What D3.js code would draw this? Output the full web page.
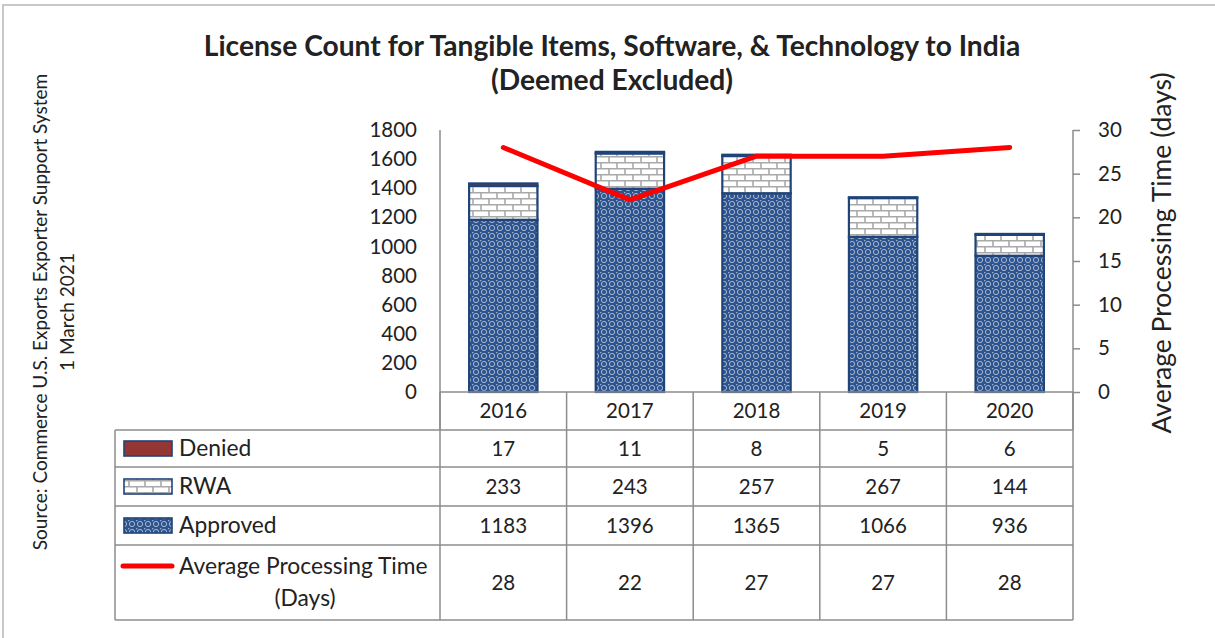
<!DOCTYPE html>
<html>
<head>
<meta charset="utf-8">
<script src="https://cdn.jsdelivr.net/npm/d3@7"></script>
<style>
  body { margin: 0; background: #fff; }
  svg text { font-family: "Lato", "Open Sans", sans-serif; fill: #222; }
</style>
</head>
<body>
<svg id="chart" width="1215" height="638"></svg>
<script>
// data
const years = ["2016", "2017", "2018", "2019", "2020"];
const denied = [17, 11, 8, 5, 6];
const rwa = [233, 243, 257, 267, 144];
const approved = [1183, 1396, 1365, 1066, 936];
const avgDays = [28, 22, 27, 27, 28];
const leftTicks = [0, 200, 400, 600, 800, 1000, 1200, 1400, 1600, 1800];
const rightTicks = [0, 5, 10, 15, 20, 25, 30];

const svg = d3.select("#chart");
const gridColor = "#8c8c8c";
const barStroke = "#1f4479";
const numSize = "20.5px";
const textSize = "22.8px";

// frame
svg.append("rect")
    .attr("x", 3).attr("y", 5)
    .attr("width", 1230).attr("height", 660)
    .attr("fill", "none")
    .attr("stroke", "#c8c8c8")
    .attr("stroke-width", 2);

// patterns
const defs = svg.append("defs");
const dots = defs.append("pattern")
    .attr("id", "approvedPat")
    .attr("patternUnits", "userSpaceOnUse")
    .attr("width", 8).attr("height", 8);
dots.append("rect").attr("width", 8).attr("height", 8).attr("fill", "#2c5592");
dots.append("circle").attr("cx", 4).attr("cy", 4).attr("r", 2.6)
    .attr("fill", "none").attr("stroke", "#aab6cb").attr("stroke-width", 1);
dots.append("rect").attr("x", 0).attr("y", 0).attr("width", 1.2).attr("height", 1.2).attr("fill", "#aab6cb");

const brick = defs.append("pattern")
    .attr("id", "rwaPat")
    .attr("patternUnits", "userSpaceOnUse")
    .attr("width", 16).attr("height", 12);
brick.append("rect").attr("width", 16).attr("height", 12).attr("fill", "#fff");
brick.append("path")
    .attr("d", "M0,0.75H16M0,6.75H16M1,0V6.75M9,6.75V12")
    .attr("stroke", "#a9a9a9").attr("stroke-width", 1.6).attr("fill", "none");

// scales
const plotLeft = 440, plotRight = 1073, plotTop = 130, plotBottom = 392;
const x = d3.scaleBand()
    .domain(years)
    .range([plotLeft, plotRight])
    .paddingInner(0.46)
    .paddingOuter(0.23);
const y = d3.scaleLinear().domain([0, 1800]).range([plotBottom, plotTop]);
const y2 = d3.scaleLinear().domain([0, 30]).range([plotBottom, plotTop]);
const step = x.step();

// title
const title = svg.append("text")
    .attr("text-anchor", "middle")
    .style("font-size", "28.2px")
    .style("font-weight", "bold");
title.append("tspan").attr("x", 612).attr("y", 56)
    .text("License Count for Tangible Items, Software, & Technology to India");
title.append("tspan").attr("x", 612).attr("y", 90)
    .text("(Deemed Excluded)");

// source note
const src = svg.append("text")
    .attr("transform", "translate(0,312) rotate(-90)")
    .attr("text-anchor", "middle")
    .style("font-size", "19px");
src.append("tspan").attr("x", 0).attr("y", 47)
    .text("Source: Commerce U.S. Exports Exporter Support System");
src.append("tspan").attr("x", 0).attr("y", 74).text("1 March 2021");

// left axis
const leftAxis = svg.append("g")
    .attr("transform", `translate(${plotLeft},0)`)
    .call(d3.axisLeft(y).tickValues(leftTicks).tickFormat(d3.format("d")).tickSize(0).tickPadding(23));
leftAxis.select(".domain").attr("stroke", gridColor).attr("stroke-width", 1.5)
    .attr("d", `M0,${plotTop}V${430}`);
leftAxis.selectAll("text").style("font-size", numSize).attr("fill", "#222");

// right axis
const rightAxis = svg.append("g")
    .attr("transform", `translate(${plotRight},0)`)
    .call(d3.axisRight(y2).tickValues(rightTicks).tickSize(7).tickPadding(18));
rightAxis.select(".domain").attr("stroke", gridColor).attr("stroke-width", 1.5)
    .attr("d", `M0,${plotTop}V${430}`);
rightAxis.selectAll(".tick line").attr("stroke", gridColor).attr("stroke-width", 1.5);
rightAxis.selectAll("text").style("font-size", numSize).attr("fill", "#222");

svg.append("text")
    .attr("transform", `translate(1171,253) rotate(-90)`)
    .attr("text-anchor", "middle")
    .style("font-size", "26.5px")
    .text("Average Processing Time (days)");

// stacked bars
const rows = years.map((yr, i) => ({ year: yr, approved: approved[i], rwa: rwa[i], denied: denied[i] }));
const stack = d3.stack().keys(["approved", "rwa", "denied"])(rows);
const fills = { approved: "url(#approvedPat)", rwa: "url(#rwaPat)", denied: "#943634" };

svg.append("g").selectAll("g")
    .data(stack)
    .join("g")
    .attr("fill", d => fills[d.key])
    .selectAll("rect")
    .data(d => d)
    .join("rect")
    .attr("x", d => x(d.data.year))
    .attr("width", x.bandwidth())
    .attr("y", d => y(d[1]))
    .attr("height", d => y(d[0]) - y(d[1]))
    .attr("stroke", barStroke)
    .attr("stroke-width", 2.2);

// baseline
svg.append("line")
    .attr("x1", plotLeft).attr("x2", plotRight)
    .attr("y1", plotBottom).attr("y2", plotBottom)
    .attr("stroke", gridColor).attr("stroke-width", 1.5);

// processing time line
const line = d3.line()
    .x((d, i) => x(years[i]) + x.bandwidth() / 2)
    .y(d => y2(d));
svg.append("path")
    .datum(avgDays)
    .attr("d", line)
    .attr("fill", "none")
    .attr("stroke", "#ff0000")
    .attr("stroke-width", 5)
    .attr("stroke-linejoin", "round")
    .attr("stroke-linecap", "round");

// data table
const tableLeft = 115;
const rowEdges = [392, 430, 467, 506, 545, 620];
const colEdges = years.map(d => x(d) - (step - x.bandwidth()) / 2).concat([plotRight]);
const table = svg.append("g");

rowEdges.slice(1).forEach(yy => {
    table.append("line")
        .attr("x1", tableLeft).attr("x2", plotRight)
        .attr("y1", yy).attr("y2", yy)
        .attr("stroke", gridColor).attr("stroke-width", 1.5);
});
colEdges.forEach(xx => {
    table.append("line")
        .attr("x1", xx).attr("x2", xx)
        .attr("y1", rowEdges[0]).attr("y2", rowEdges[5])
        .attr("stroke", gridColor).attr("stroke-width", 1.5);
});
table.append("line")
    .attr("x1", tableLeft).attr("x2", tableLeft)
    .attr("y1", rowEdges[1]).attr("y2", rowEdges[5])
    .attr("stroke", gridColor).attr("stroke-width", 1.5);

// year labels
table.selectAll(".yr")
    .data(years)
    .join("text")
    .attr("x", d => x(d) + x.bandwidth() / 2)
    .attr("y", (rowEdges[0] + rowEdges[1]) / 2 + 7)
    .attr("text-anchor", "middle")
    .style("font-size", numSize)
    .text(d => d);

const tableRows = [
    { name: "Denied", values: denied, key: "denied" },
    { name: "RWA", values: rwa, key: "rwa" },
    { name: "Approved", values: approved, key: "approved" },
    { name: "Average Processing Time", values: avgDays, key: "line" }
];

tableRows.forEach((r, ri) => {
    const top = rowEdges[ri + 1], bottom = rowEdges[ri + 2];
    const mid = (top + bottom) / 2;
    table.selectAll(".v" + ri)
        .data(r.values)
        .join("text")
        .attr("x", (d, i) => x(years[i]) + x.bandwidth() / 2)
        .attr("y", mid + 7)
        .attr("text-anchor", "middle")
        .style("font-size", numSize)
        .text(d => d);

    if (r.key === "line") {
        table.append("line")
            .attr("x1", 123).attr("x2", 172)
            .attr("y1", 566).attr("y2", 566)
            .attr("stroke", "#ff0000").attr("stroke-width", 5)
            .attr("stroke-linecap", "round");
        table.append("text").attr("x", 179).attr("y", 574)
            .style("font-size", textSize).text(r.name);
        table.append("text").attr("x", 305).attr("y", 606)
            .attr("text-anchor", "middle")
            .style("font-size", textSize).text("(Days)");
    } else {
        table.append("rect")
            .attr("x", 124).attr("y", mid - 7.5)
            .attr("width", 48).attr("height", 15)
            .attr("fill", fills[r.key])
            .attr("stroke", barStroke).attr("stroke-width", 1.6);
        table.append("text").attr("x", 179).attr("y", mid + 7.5)
            .style("font-size", textSize).text(r.name);
    }
});
</script>
</body>
</html>
